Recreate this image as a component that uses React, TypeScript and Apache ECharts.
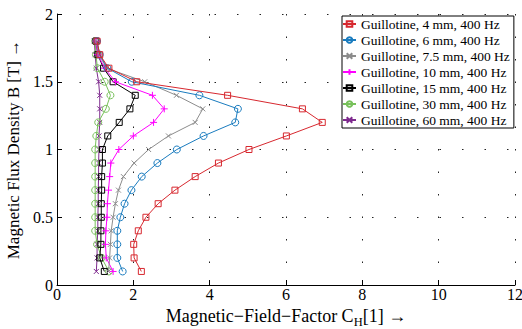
import React, { useEffect, useRef } from "react";
import * as echarts from "echarts";

const fluxDensity = [0.1, 0.2, 0.3, 0.4, 0.5, 0.6, 0.7, 0.8, 0.9, 1.0, 1.1, 1.2, 1.3, 1.4, 1.5, 1.6, 1.7, 1.8];

const seriesNames = [
  "Guillotine, 4 mm, 400 Hz",
  "Guillotine, 6 mm, 400 Hz",
  "Guillotine, 7.5 mm, 400 Hz",
  "Guillotine, 10 mm, 400 Hz",
  "Guillotine, 15 mm, 400 Hz",
  "Guillotine, 30 mm, 400 Hz",
  "Guillotine, 60 mm, 400 Hz",
];

const factor4mm = [2.21, 2.02, 2.01, 2.13, 2.33, 2.65, 3.09, 3.62, 4.23, 5.03, 6.01, 6.95, 6.43, 4.47, 2.09, 1.36, 1.12, 1.05];
const factor6mm = [1.72, 1.58, 1.58, 1.58, 1.66, 1.77, 1.95, 2.22, 2.63, 3.14, 3.84, 4.67, 4.74, 3.73, 1.96, 1.32, 1.12, 1.05];
const factor7p5mm = [1.35, 1.38, 1.40, 1.42, 1.47, 1.53, 1.61, 1.74, 2.02, 2.40, 2.92, 3.62, 3.82, 3.13, 2.30, 1.30, 1.10, 1.03];
const factor10mm = [1.47, 1.29, 1.27, 1.28, 1.31, 1.32, 1.35, 1.38, 1.41, 1.62, 2.00, 2.53, 2.81, 2.50, 1.53, 1.25, 1.07, 1.02];
const factor15mm = [1.24, 1.12, 1.15, 1.15, 1.16, 1.16, 1.17, 1.17, 1.19, 1.19, 1.33, 1.63, 1.91, 2.05, 1.47, 1.22, 1.07, 1.02];
const factor30mm = [1.36, 1.17, 1.05, 1.0, 1.0, 1.0, 1.0, 1.0, 1.0, 1.0, 1.03, 1.08, 1.28, 1.40, 1.25, 1.06, 1.02, 1.0];
const factor60mm = [1.03, 1.05, 1.05, 1.07, 1.07, 1.08, 1.08, 1.09, 1.09, 1.10, 1.10, 1.12, 1.12, 1.12, 1.09, 1.03, 1.0, 0.98];

const xTicks = [0, 2, 4, 6, 8, 10, 12];
const yTicks = [0, 0.5, 1, 1.5, 2];

const seriesValues = [factor4mm, factor6mm, factor7p5mm, factor10mm, factor15mm, factor30mm, factor60mm];
const seriesColors = ["#d7282f", "#1a7cbf", "#8c8c8c", "#ff00ff", "#000000", "#78c15b", "#7e2a8e"];
const crossPath = "path://M0,0L5,5M5,0L0,5";
const plusPath = "path://M3.5,0L3.5,7M0,3.5L7,3.5";
const seriesSymbols = ["rect", "circle", crossPath, plusPath, "rect", "circle", crossPath];
const seriesSymbolSizes = [6, 7, 5, 7, 6, 7, 5];

const FONT = "Liberation Serif";

export default function App() {
  const ref = useRef<HTMLDivElement>(null);

  useEffect(() => {
    if (!ref.current) return;
    const chart = echarts.init(ref.current, null, { renderer: "svg" });

    const series = seriesNames.map((name, i) => ({
      name,
      type: "line",
      data: seriesValues[i].map((x, j) => [x, fluxDensity[j]]),
      symbol: seriesSymbols[i],
      symbolSize: seriesSymbolSizes[i],
      showAllSymbol: true,
      color: seriesColors[i],
      lineStyle: { color: seriesColors[i], width: 1 },
      itemStyle: { color: "rgba(0,0,0,0)", borderColor: seriesColors[i], borderWidth: 1 },
      emphasis: { disabled: true },
      z: 10 - i,
    }));

    const axisCommon = {
      type: "value",
      axisLine: { show: true, onZero: false, lineStyle: { color: "#000", width: 1 } },
      axisTick: { show: true, inside: true, length: 5, lineStyle: { color: "#000", width: 1 } },
      splitLine: { show: true, lineStyle: { color: "#222", width: 1, type: [1.5, 21] } },
    };

    chart.setOption({
      animation: false,
      backgroundColor: "#fff",
      textStyle: { fontFamily: FONT },
      grid: { left: 57, right: 7, top: 14, bottom: 44, containLabel: false, outerBoundsMode: "none" },
      legend: {
        orient: "vertical",
        left: 342,
        top: 16,
        padding: [0, 4, 0, 0],
        itemWidth: 13,
        itemHeight: 7,
        itemGap: 0,
        backgroundColor: "#fff",
        borderColor: "#000",
        borderWidth: 1,
        borderRadius: 0,
        textStyle: { fontFamily: FONT, fontSize: 13.5, color: "#000", lineHeight: 16 },
        data: seriesNames,
      },
      xAxis: {
        ...axisCommon,
        min: xTicks[0],
        max: xTicks[xTicks.length - 1],
        interval: xTicks[1] - xTicks[0],
        axisLabel: { color: "#000", fontSize: 16, fontFamily: FONT, margin: 1 },
        name: "{m|Magnetic\u2212Field\u2212Factor C}{sub|H}{m|[1] \u2192}",
        nameLocation: "middle",
        nameGap: 13,
        nameTextStyle: {
          color: "#000",
          fontSize: 18,
          fontFamily: FONT,
          rich: {
            m: { fontSize: 18, fontFamily: FONT, color: "#000", lineHeight: 18, verticalAlign: "top" },
            sub: { fontSize: 12.5, fontFamily: FONT, color: "#000", lineHeight: 12, padding: [9, 0, 0, 0], verticalAlign: "top" },
          },
        },
      },
      yAxis: {
        ...axisCommon,
        min: yTicks[0],
        max: yTicks[yTicks.length - 1],
        interval: yTicks[1] - yTicks[0],
        axisLabel: { color: "#000", fontSize: 16, fontFamily: FONT, margin: 4 },
        name: "Magnetic Flux Density B [T] \u2192",
        nameLocation: "middle",
        nameGap: 25,
        nameTextStyle: { color: "#000", fontSize: 17, fontFamily: FONT },
      },
      series,
    });

    return () => chart.dispose();
  }, []);

  return <div ref={ref} style={{ position: "absolute", left: 0, top: 0, width: 522, height: 329 }} />;
}
